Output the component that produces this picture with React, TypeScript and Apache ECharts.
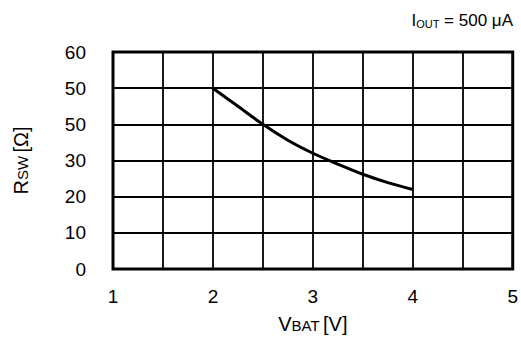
import React, { useEffect, useRef } from "react";
import * as echarts from "echarts";

const vbat = [2, 2.25, 2.5, 2.75, 3, 3.25, 3.5, 3.75, 4];
const rsw = [50, 45, 40, 35.6, 32, 29, 26.2, 23.9, 22];
const yTickLabels = ["0", "10", "20", "30", "50", "50", "60"];
const xTickLabels = ["1", "2", "3", "4", "5"];

export default function App() {
  const ref = useRef<HTMLDivElement>(null);
  useEffect(() => {
    const chart = echarts.init(ref.current!, null, { renderer: "svg" });
    const font = "'Liberation Sans', Arial, sans-serif";
    chart.setOption({
      animation: false,
      backgroundColor: "#ffffff",
      grid: {
        left: 113,
        right: 7,
        top: 52,
        bottom: 69,
        show: true,
        borderColor: "#000",
        borderWidth: 3,
        backgroundColor: "transparent",
      },
      xAxis: {
        type: "value",
        min: 1,
        max: 5,
        interval: 0.5,
        axisLine: { show: false },
        axisTick: { show: false },
        splitLine: { show: true, lineStyle: { color: "#000", width: 1.8 } },
        axisLabel: {
          color: "#000",
          fontFamily: font,
          fontSize: 19,
          margin: 18,
          formatter: (v: number) => {
            const i = xTickLabels.indexOf(String(v));
            return i >= 0 ? xTickLabels[i] : "";
          },
        },
        name: "{a|V}{b|BAT} {a|[V]}",
        nameLocation: "middle",
        nameGap: 45,
        nameTextStyle: {
          fontFamily: font,
          rich: {
            a: { fontSize: 20, color: "#000", fontFamily: font },
            b: { fontSize: 15, color: "#000", fontFamily: font, padding: [3, 0, 0, 0] },
          },
        },
      },
      yAxis: {
        type: "value",
        min: 0,
        max: 60,
        interval: 10,
        axisLine: { show: false },
        axisTick: { show: false },
        splitLine: { show: true, lineStyle: { color: "#000", width: 1.8 } },
        axisLabel: {
          color: "#000",
          fontFamily: font,
          fontSize: 19,
          margin: 27,
          formatter: (v: number) => yTickLabels[Math.round(v / 10)] ?? "",
        },
        name: "{a|R}{b|SW} {a|[Ω]}",
        nameLocation: "middle",
        nameGap: 82,
        nameRotate: 90,
        nameTextStyle: {
          fontFamily: font,
          rich: {
            a: { fontSize: 20, color: "#000", fontFamily: font },
            b: { fontSize: 15, color: "#000", fontFamily: font, padding: [3, 0, 0, 0] },
          },
        },
      },
      graphic: [
        {
          type: "text",
          right: 8,
          top: 12,
          style: {
            text: "{a|I}{b|OUT}{a| = 500 μA}",
            rich: {
              a: { fontSize: 17, fill: "#000", fontFamily: font },
              b: { fontSize: 11, fill: "#000", fontFamily: font, padding: [6, 0, 0, 0] },
            },
          },
        },
      ],
      series: [
        {
          type: "line",
          data: vbat.map((x, i) => [x, rsw[i]]),
          smooth: 0.3,
          showSymbol: false,
          lineStyle: { color: "#000", width: 3 },
        },
      ],
    });
    return () => chart.dispose();
  }, []);
  return (
    <div
      ref={ref}
      style={{ position: "absolute", left: 0, top: 0, width: 521, height: 339 }}
    />
  );
}
